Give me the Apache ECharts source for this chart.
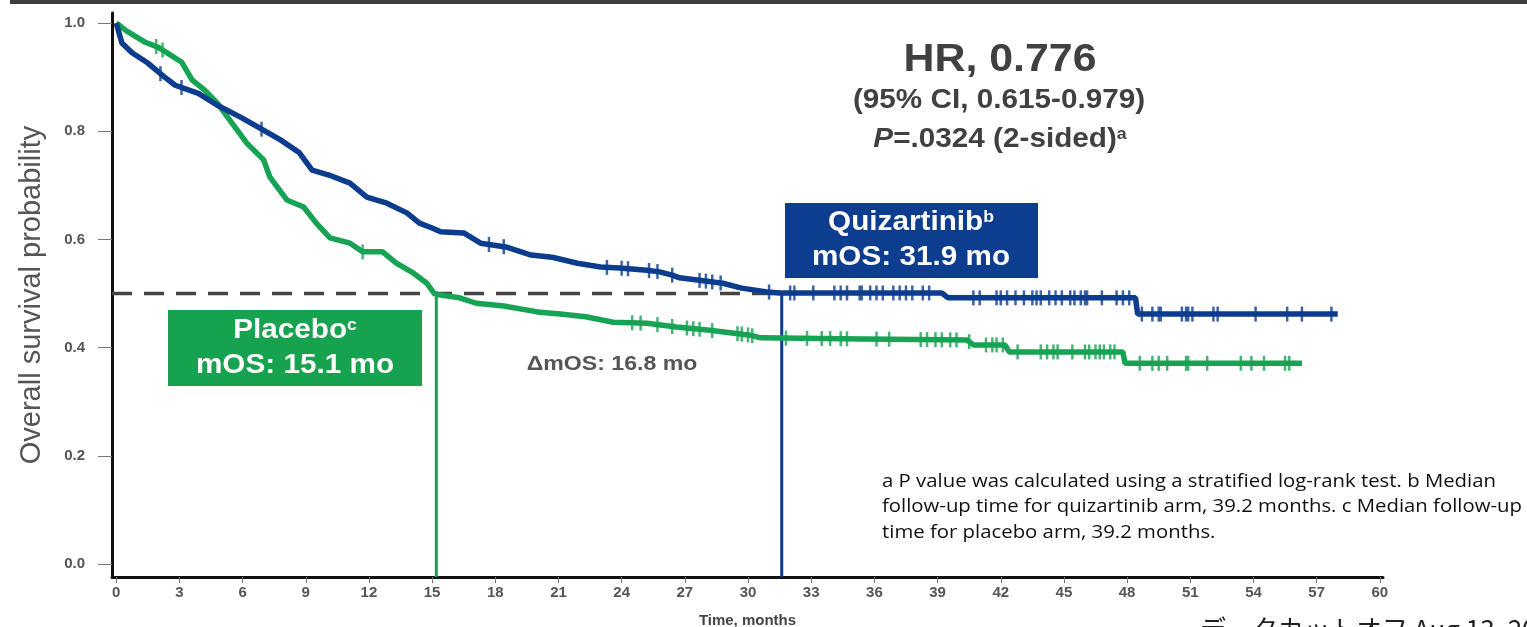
<!DOCTYPE html>
<html>
<head>
<meta charset="utf-8">
<title>Overall survival</title>
<script src="https://cdn.jsdelivr.net/npm/echarts@6.0.0/dist/echarts.min.js"></script>
<style>
  html, body { margin: 0; padding: 0; background: #fff; }
  #chart { width: 1527px; height: 627px; }
</style>
</head>
<body>
<div id="chart"></div>
<script>
// ticks
var xTicks = [0, 3, 6, 9, 12, 15, 18, 21, 24, 27, 30, 33, 36, 39, 42, 45, 48, 51, 54, 57, 60];
var yTicks = [0, 0.2, 0.4, 0.6, 0.8, 1.0];

// Kaplan-Meier curves: [months, survival]
var quizCurve = [
  [0, 1.0], [0.27, 0.963], [0.75, 0.945], [1.5, 0.926], [2.3, 0.90], [2.8, 0.885],
  [3.9, 0.87], [4.8, 0.848], [5.9, 0.826], [6.8, 0.806], [7.8, 0.784], [8.7, 0.76],
  [9.3, 0.728], [10.1, 0.719], [11.1, 0.704], [11.9, 0.678], [12.85, 0.667], [13.8, 0.649],
  [14.4, 0.63], [15.0, 0.621], [15.4, 0.614], [16.5, 0.612], [17.3, 0.593], [18.5, 0.586],
  [19.7, 0.571], [20.7, 0.567], [21.9, 0.556], [23.0, 0.549], [23.9, 0.547], [25.2, 0.543],
  [25.8, 0.54], [26.4, 0.534], [26.75, 0.529], [28.8, 0.519], [29.7, 0.51], [30.9, 0.503],
  [31.5, 0.501], [39.2, 0.501], [39.5, 0.492], [48.4, 0.492], [48.5, 0.462], [58.0, 0.462]
];
var placeboCurve = [
  [0, 1.0], [0.5, 0.985], [1.35, 0.965], [2.0, 0.955], [3.1, 0.928], [3.6, 0.895],
  [4.2, 0.876], [4.8, 0.852], [5.5, 0.815], [6.2, 0.778], [7.0, 0.747], [7.3, 0.715],
  [8.1, 0.673], [8.9, 0.66], [9.5, 0.63], [10.15, 0.603], [11.1, 0.593], [11.7, 0.577],
  [12.65, 0.577], [13.3, 0.556], [14.1, 0.538], [14.75, 0.519], [15.1, 0.50], [15.4, 0.497],
  [16.3, 0.492], [17.1, 0.482], [18.4, 0.477], [20.0, 0.466], [21.1, 0.462], [22.3, 0.457],
  [23.6, 0.447], [25.2, 0.445], [26.6, 0.438], [28.2, 0.432], [30.1, 0.423], [30.6, 0.418],
  [35.5, 0.416], [40.4, 0.414], [40.7, 0.405], [42.2, 0.405], [42.4, 0.392], [47.8, 0.392],
  [47.9, 0.371], [56.3, 0.371]
];

// censor times (months)
var quizCensor = [2.1, 3.1, 6.9, 17.7, 18.4, 23.3, 24.0, 24.3, 25.3, 25.7, 26.4, 27.7, 28.0,
  28.3, 28.7, 31.0, 32.0, 32.2, 33.1, 34.1, 34.4, 34.7, 35.3, 35.4, 35.8, 36.1, 36.4, 36.9,
  37.2, 37.5, 37.8, 38.3, 38.6, 40.7, 41.0, 41.8, 42.0, 42.3, 42.7, 43.1, 43.5, 43.7, 43.9,
  44.3, 44.6, 44.9, 45.3, 45.5, 45.8, 46.0, 46.1, 46.8, 47.5, 47.8, 48.1, 48.7, 49.2, 49.5,
  49.6, 50.6, 50.8, 50.9, 51.1, 52.1, 52.3, 54.1, 55.6, 56.3, 57.7];
var placeboCensor = [1.9, 2.2, 11.7, 24.5, 24.9, 25.7, 26.4, 27.1, 27.4, 27.7, 28.3, 29.5,
  29.7, 30.0, 30.2, 31.8, 32.8, 33.5, 33.9, 34.4, 34.7, 36.1, 36.7, 38.2, 38.5, 38.9, 39.2,
  39.6, 39.9, 40.5, 41.3, 41.6, 41.8, 42.1, 42.8, 43.9, 44.2, 44.5, 44.7, 45.4, 46.0, 46.2,
  46.5, 46.7, 46.9, 47.2, 47.4, 48.6, 49.2, 49.5, 49.9, 50.8, 50.9, 51.8, 53.4, 53.9, 54.5,
  55.5, 55.7];

// median drop lines as drawn (placebo, quizartinib) and the 50% level
var medianDrops = [15.2, 31.6];
var halfLevel = 0.5;

var xMin = -0.2, xMax = 60.15;
var yMin = -0.024, yMax = 1.0185;

var blue = '#0c3c8e';
var green = '#17a354';
var FONT = '"Liberation Sans", Arial, sans-serif';

function survAt(curve, t) {
  for (var i = 1; i < curve.length; i++) {
    if (t <= curve[i][0]) {
      var a = curve[i - 1], b = curve[i];
      return a[1] + (b[1] - a[1]) * (t - a[0]) / (b[0] - a[0]);
    }
  }
  return curve[curve.length - 1][1];
}
function censorPoints(curve, times) {
  return times.map(function (t) { return [t, survAt(curve, t)]; });
}

var chart = echarts.init(document.getElementById('chart'));

var option = {
  animation: false,
  backgroundColor: '#fff',
  grid: { left: 112, right: 144, top: 13, bottom: 50, containLabel: false, outerBoundsMode: 'none' },
  xAxis: {
    type: 'value', min: xMin, max: xMax,
    name: 'Time, months', nameLocation: 'middle', nameGap: 36,
    nameTextStyle: { fontFamily: FONT, fontSize: 15, fontWeight: 'bold', color: '#444' },
    axisLine: { show: true, onZero: false, lineStyle: { color: '#111', width: 3 } },
    axisTick: { show: true, customValues: xTicks, length: 6, lineStyle: { color: '#777', width: 1 } },
    axisLabel: { customValues: xTicks, margin: 8, fontFamily: FONT, fontSize: 15, fontWeight: 'bold', color: '#555' },
    splitLine: { show: false }
  },
  yAxis: {
    type: 'value', min: yMin, max: yMax,
    name: 'Overall survival probability', nameLocation: 'middle', nameGap: 66,
    nameTextStyle: { fontFamily: FONT, fontSize: 29, color: '#555' },
    axisLine: { show: true, onZero: false, lineStyle: { color: '#111', width: 3 } },
    axisTick: { show: true, customValues: yTicks, length: 14, lineStyle: { color: '#777', width: 1 } },
    axisLabel: {
      customValues: yTicks, margin: 27, fontFamily: FONT, fontSize: 15, fontWeight: 'bold', color: '#555',
      formatter: function (v) { return v.toFixed(1); }
    },
    splitLine: { show: false }
  },
  series: [
    {
      type: 'line', silent: true, symbol: 'none',
      data: [[xMin, halfLevel], [medianDrops[1], halfLevel]],
      lineStyle: { color: '#444', width: 3.5, type: [20, 12] }, z: 1
    },
    {
      type: 'line', silent: true, symbol: 'none',
      data: [[medianDrops[0], halfLevel], [medianDrops[0], yMin]],
      lineStyle: { color: green, width: 3 }, z: 2
    },
    {
      type: 'line', silent: true, symbol: 'none',
      data: [[medianDrops[1], halfLevel], [medianDrops[1], yMin]],
      lineStyle: { color: blue, width: 3 }, z: 2
    },
    {
      name: 'Placebo', type: 'line', symbol: 'none', data: placeboCurve,
      lineStyle: { color: green, width: 5.5 }, z: 3
    },
    {
      name: 'Quizartinib', type: 'line', symbol: 'none', data: quizCurve,
      lineStyle: { color: blue, width: 5.5 }, z: 4
    },
    {
      type: 'scatter', symbol: 'rect', symbolSize: [2.5, 15],
      data: censorPoints(placeboCurve, placeboCensor),
      itemStyle: { color: green }, z: 5
    },
    {
      type: 'scatter', symbol: 'rect', symbolSize: [2.5, 15],
      data: censorPoints(quizCurve, quizCensor),
      itemStyle: { color: blue }, z: 6
    }
  ],
  graphic: [
    { type: 'rect', left: 10, top: 0, shape: { width: 1517, height: 4 }, style: { fill: '#3c3c3c' } },
    // HR block
    {
      type: 'text', x: 1000, y: 60, scaleX: 1.1,
      style: { text: 'HR, 0.776', font: 'bold 39px ' + FONT, fill: '#404040', align: 'center', verticalAlign: 'middle' }
    },
    {
      type: 'text', x: 999, y: 101, scaleX: 1.1,
      style: { text: '(95% CI, 0.615-0.979)', font: 'bold 27px ' + FONT, fill: '#404040', align: 'center', verticalAlign: 'middle' }
    },
    {
      type: 'text', x: 1000, y: 140, scaleX: 1.1,
      style: {
        text: '{i|P}{n|=.0324 (2-sided)}{s|a}', align: 'center', verticalAlign: 'middle',
        rich: {
          i: { font: 'italic bold 27px ' + FONT, fill: '#404040' },
          n: { font: 'bold 27px ' + FONT, fill: '#404040' },
          s: { font: 'bold 16px ' + FONT, fill: '#404040', verticalAlign: 'top' }
        }
      }
    },
    // placebo box
    { type: 'rect', shape: { x: 168, y: 310, width: 254, height: 76 }, style: { fill: '#16a24f' } },
    {
      type: 'text', x: 295, y: 331, scaleX: 1.1,
      style: {
        text: '{m|Placebo}{s|c}', align: 'center', verticalAlign: 'middle',
        rich: {
          m: { font: 'bold 27px ' + FONT, fill: '#fff' },
          s: { font: 'bold 16px ' + FONT, fill: '#fff', verticalAlign: 'top' }
        }
      }
    },
    {
      type: 'text', x: 295, y: 366, scaleX: 1.1,
      style: { text: 'mOS: 15.1 mo', font: 'bold 27px ' + FONT, fill: '#fff', align: 'center', verticalAlign: 'middle' }
    },
    // quizartinib box
    { type: 'rect', shape: { x: 785, y: 203, width: 253, height: 75 }, style: { fill: '#0d3d8e' } },
    {
      type: 'text', x: 911, y: 223, scaleX: 1.1,
      style: {
        text: '{m|Quizartinib}{s|b}', align: 'center', verticalAlign: 'middle',
        rich: {
          m: { font: 'bold 27px ' + FONT, fill: '#fff' },
          s: { font: 'bold 16px ' + FONT, fill: '#fff', verticalAlign: 'top' }
        }
      }
    },
    {
      type: 'text', x: 911, y: 258, scaleX: 1.1,
      style: { text: 'mOS: 31.9 mo', font: 'bold 27px ' + FONT, fill: '#fff', align: 'center', verticalAlign: 'middle' }
    },
    {
      type: 'text', x: 612, y: 364, scaleX: 1.1,
      style: { text: '\u0394mOS: 16.8 mo', font: 'bold 21px ' + FONT, fill: '#555', align: 'center', verticalAlign: 'middle' }
    },
    // footnote
    {
      type: 'text', x: 882, y: 469, scaleX: 1.13,
      style: {
        text: 'a P value was calculated using a stratified log-rank test. b Median\nfollow-up time for quizartinib arm, 39.2 months. c Median follow-up\ntime for placebo arm, 39.2 months.',
        font: '18px "Open Sans", sans-serif', lineHeight: 25.5, fill: '#111', align: 'left', verticalAlign: 'top'
      }
    },
    {
      type: 'text', x: 1200, y: 616,
      style: { text: 'データカットオフ Aug 13, 2022', font: '26px "Noto Sans CJK JP", sans-serif', fill: '#222', align: 'left', verticalAlign: 'top' }
    }
  ]
};

chart.setOption(option);
window.addEventListener('resize', function () { chart.resize(); });
</script>
</body>
</html>
